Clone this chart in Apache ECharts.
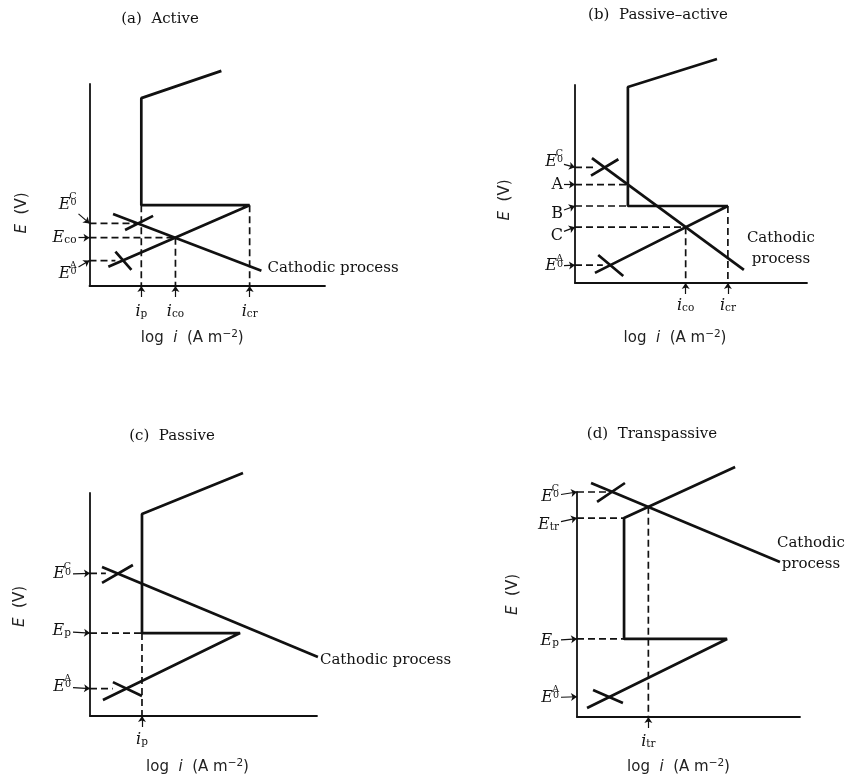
<!DOCTYPE html>
<html>
<head>
<meta charset="utf-8">
<title>Polarization diagrams</title>
<script src="https://cdn.jsdelivr.net/npm/echarts@6/dist/echarts.min.js"></script>
<style>
  html, body { margin: 0; padding: 0; background: #fff; }
  #chart { width: 850px; height: 778px; }
</style>
</head>
<body>
<div id="chart"></div>
<script>
// schematic units: every panel runs 0..10 on both axes

// (a) Active
const aAnodic = [[0.8, 0.95], [6.8, 4.0], [2.2, 4.0], [2.2, 9.3], [5.6, 10.65]];
const aCathodic = [[1.0, 3.56], [7.3, 0.75]];
const aCrosses = [[[1.51, 2.77], [2.70, 3.47]], [[1.1, 1.7], [1.78, 0.8]]];
const aDashed = [
  [[0, 3.1], [2.0, 3.1]], [[0, 2.39], [3.65, 2.39]], [[0, 1.26], [1.1, 1.26]],
  [[2.2, 4.0], [2.2, 0]], [[3.65, 2.39], [3.65, 0]], [[6.8, 4.0], [6.8, 0]]
];
const aLevels = [3.1, 2.39, 1.26];
const aLevelNames = ['E0C', 'Eco', 'E0A'];
const aCurrents = [2.2, 3.65, 6.8];
const aCurrentNames = ['ip', 'ico', 'icr'];

// (b) Passive-active
const bAnodic = [[0.86, 0.51], [6.59, 3.89], [2.28, 3.89], [2.28, 9.9], [6.12, 11.31]];
const bCathodic = [[0.73, 6.31], [7.28, 0.66]];
const bCrosses = [[[0.69, 5.42], [1.87, 6.25]], [[1.0, 1.41], [2.08, 0.35]]];
const bDashed = [
  [[0, 5.84], [0.9, 5.84]], [[0, 4.97], [2.28, 4.97]], [[0, 3.89], [2.28, 3.89]],
  [[0, 2.82], [4.77, 2.82]], [[0, 0.9], [1.2, 0.9]],
  [[4.77, 2.82], [4.77, 0]], [[6.59, 3.89], [6.59, 0]]
];
const bLevels = [5.84, 4.97, 3.89, 2.82, 0.9];
const bLevelNames = ['E0C', 'A', 'B', 'C', 'E0A'];
const bCurrents = [4.77, 6.59];
const bCurrentNames = ['ico', 'icr'];

// (c) Passive
const cAnodic = [[0.57, 0.72], [6.61, 3.72], [2.29, 3.72], [2.29, 9.06], [6.74, 10.9]];
const cCathodic = [[0.53, 6.68], [10.04, 2.65]];
const cCrosses = [[[0.53, 5.97], [1.89, 6.77]], [[1.01, 1.52], [2.29, 0.9]]];
const cDashed = [
  [[0, 6.4], [0.7, 6.4]], [[0, 3.72], [2.29, 3.72]], [[0, 1.23], [1.0, 1.23]],
  [[2.29, 3.72], [2.29, 0]]
];
const cLevels = [6.4, 3.72, 1.23];
const cLevelNames = ['E0C', 'Ep', 'E0A'];
const cCurrents = [2.29];
const cCurrentNames = ['ip'];

// (d) Transpassive
const dAnodic = [[0.45, 0.4], [6.73, 3.47], [2.11, 3.47], [2.11, 8.84], [7.09, 11.11]];
const dCathodic = [[0.63, 10.4], [9.1, 6.89]];
const dCrosses = [[[0.9, 9.56], [2.15, 10.4]], [[0.72, 1.2], [2.06, 0.62]]];
const dDashed = [
  [[0, 10], [1.3, 10]], [[0, 8.84], [2.11, 8.84]], [[0, 3.47], [2.11, 3.47]],
  [[3.2, 9.34], [3.2, 0]]
];
const dLevels = [10, 8.84, 3.47, 0.9];
const dLevelNames = ['E0C', 'Etr', 'Ep', 'E0A'];
const dCurrents = [3.2];
const dCurrentNames = ['itr'];

const INK = '#111';
const SERIF = "'DejaVu Serif', 'Liberation Serif', serif";
const SANS = "'DejaVu Sans', sans-serif";

// rich text pieces for the axis labels (E0 labels stack sup over sub)
const LABELS = {
  E0C: ['{g|E}{sup|C}', '{e|E}{sub|0}'],
  E0A: ['{g|E}{sup|A}', '{e|E}{sub|0}'],
  Eco: ['{e1|E}{subw|co}'],
  Ep: ['{e1|E}{subw|p}'],
  Etr: ['{e1|E}{subw|tr}'],
  A: ['{r|A}'], B: ['{r|B}'], C: ['{r|C}'],
  ip: '{i|i}{subw|p}', ico: '{i|i}{subw|co}', icr: '{i|i}{subw|cr}', itr: '{i|i}{subw|tr}'
};

const RICH = {
  e: { fontFamily: SERIF, fontStyle: 'italic', fontSize: 16, lineHeight: 6, color: INK },
  g: { fontFamily: SERIF, fontStyle: 'italic', fontSize: 16, lineHeight: 4, color: 'rgba(0,0,0,0)' },
  sup: { fontFamily: SERIF, fontSize: 9.5, lineHeight: 1, verticalAlign: 'bottom', color: INK },
  sub: { fontFamily: SERIF, fontSize: 9.5, lineHeight: 1, verticalAlign: 'bottom', color: INK },
  e1: { fontFamily: SERIF, fontStyle: 'italic', fontSize: 16, lineHeight: 16, color: INK },
  subw: { fontFamily: SERIF, fontSize: 10.5, lineHeight: 9, verticalAlign: 'bottom', color: INK },
  r: { fontFamily: SERIF, fontSize: 16, lineHeight: 16, color: INK },
  i: { fontFamily: SERIF, fontStyle: 'italic', fontSize: 16, lineHeight: 16, color: INK }
};
for (let n = 1; n <= 60; n++) RICH['gap' + n] = { fontSize: 1, lineHeight: n };

const NAME_RICH = {
  n: { fontFamily: SANS, fontSize: 15, lineHeight: 18, color: '#222' },
  ni: { fontFamily: SANS, fontStyle: 'italic', fontSize: 15, lineHeight: 18, color: '#222' },
  ns: { fontFamily: SANS, fontSize: 10.5, lineHeight: 11, verticalAlign: 'top', color: '#222' }
};

const panels = [
  {
    anodic: aAnodic, cathodic: aCathodic, crosses: aCrosses, dashed: aDashed,
    levels: aLevels, levelNames: aLevelNames, currents: aCurrents, currentNames: aCurrentNames,
    cathodicText: '{c|Cathodic process}',
    grid: { left: 89.5, top: 84, width: 235.5, height: 202 },
    title: { text: '(a)  Active', x: 160, y: 12 },
    labelShift: [-19, 0, 13], yMargin: 13, yArrow: 11, xMargin: 18,
    xNameGap: 43, xNameShift: 15, yNameGap: 58, yNameShift: 28,
    endLabel: { distance: 5, offset: [1, -3] }
  },
  {
    anodic: bAnodic, cathodic: bCathodic, crosses: bCrosses, dashed: bDashed,
    levels: bLevels, levelNames: bLevelNames, currents: bCurrents, currentNames: bCurrentNames,
    cathodicText: '{c|Cathodic}\n{c|process}',
    grid: { left: 575, top: 85, width: 232, height: 198 },
    title: { text: '(b)  Passive\u2013active', x: 658, y: 8 },
    labelShift: [-6, 0, 8, 8.5, 1], yMargin: 12, yArrow: 11, xMargin: 15,
    xNameGap: 46, xNameShift: 16, yNameGap: 61, yNameShift: 16,
    endLabel: { distance: 3, offset: [0, -21.5] }
  },
  {
    anodic: cAnodic, cathodic: cCathodic, crosses: cCrosses, dashed: cDashed,
    levels: cLevels, levelNames: cLevelNames, currents: cCurrents, currentNames: cCurrentNames,
    cathodicText: '{c|Cathodic process}',
    grid: { left: 90, top: 493, width: 227, height: 223 },
    title: { text: '(c)  Passive', x: 172, y: 429 },
    labelShift: [1, -2, -2], yMargin: 19, yArrow: 17, xMargin: 16,
    xNameGap: 42, xNameShift: 6, yNameGap: 61, yNameShift: 2,
    endLabel: { distance: 2, offset: [0, 3] }
  },
  {
    anodic: dAnodic, cathodic: dCathodic, crosses: dCrosses, dashed: dDashed,
    levels: dLevels, levelNames: dLevelNames, currents: dCurrents, currentNames: dCurrentNames,
    cathodicText: '{c|Cathodic}\n{c|process}',
    grid: { left: 577, top: 492, width: 223, height: 225 },
    title: { text: '(d)  Transpassive', x: 652, y: 427 },
    labelShift: [5, 7, 2, 1], yMargin: 18, yArrow: 16, xMargin: 17,
    xNameGap: 41, xNameShift: 10, yNameGap: 55, yNameShift: -10,
    endLabel: { distance: -3, offset: [0, -8] }
  }
];

function joinSegs(segs) {
  const out = [];
  segs.forEach((s, i) => {
    if (i) out.push(['-', '-']);
    out.push(...s);
  });
  return out;
}

function nearest(arr, v) {
  let best = 0;
  arr.forEach((a, i) => { if (Math.abs(a - v) < Math.abs(arr[best] - v)) best = i; });
  return best;
}

// vertical nudge of a label: blank line above or below moves the block
function levelLabel(name, shift) {
  const lines = LABELS[name].slice();
  const eff = shift + (lines.length === 2 ? -2 : 0);
  const g = Math.round(Math.abs(eff) * 2);
  if (g > 0) {
    if (eff > 0) lines.unshift('{gap' + g + '| }');
    else lines.push('{gap' + g + '| }');
  }
  return lines.join('\n');
}

const option = {
  animation: false,
  backgroundColor: '#fff',
  title: [], grid: [], xAxis: [], yAxis: [], series: []
};

panels.forEach((p, idx) => {
  const pxX = p.grid.width / 10, pxY = p.grid.height / 10;
  const base = {
    type: 'line', xAxisIndex: idx, yAxisIndex: idx, symbol: 'none', showSymbol: false,
    clip: false, silent: true, lineStyle: { color: INK, width: 2.7 }
  };

  option.title.push({
    text: p.title.text, left: p.title.x, top: p.title.y, textAlign: 'center', padding: 0,
    textStyle: { fontFamily: SERIF, fontSize: 15, fontWeight: 'normal', color: INK }
  });
  option.grid.push(Object.assign({ outerBoundsMode: 'none', containLabel: false }, p.grid));

  option.xAxis.push({
    gridIndex: idx, type: 'value', min: 0, max: 10,
    axisLine: { show: true, onZero: false, lineStyle: { color: INK, width: 1.8 } },
    axisTick: { show: false }, splitLine: { show: false },
    axisLabel: {
      show: true, customValues: p.currents, margin: p.xMargin, rich: RICH,
      formatter: (v) => LABELS[p.currentNames[nearest(p.currents, v)]]
    },
    name: '{n|log  }{ni|i}{n|  (A m}{ns|\u22122}{n|)}',
    nameLocation: 'middle', nameGap: p.xNameGap,
    nameTextStyle: { rich: NAME_RICH, padding: [0, 2 * p.xNameShift, 0, 0] }
  });

  const ys = p.yNameShift;
  option.yAxis.push({
    gridIndex: idx, type: 'value', min: 0, max: 10,
    axisLine: { show: true, onZero: false, lineStyle: { color: INK, width: 1.8 } },
    axisTick: { show: false }, splitLine: { show: false },
    axisLabel: {
      show: true, customValues: p.levels, margin: p.yMargin, rich: RICH,
      formatter: (v) => {
        const k = nearest(p.levels, v);
        return levelLabel(p.levelNames[k], p.labelShift[k]);
      }
    },
    name: '{ni|E}{n|  (V)}',
    nameLocation: 'middle', nameGap: p.yNameGap,
    nameTextStyle: {
      rich: NAME_RICH,
      padding: ys >= 0 ? [0, 2 * ys, 0, 0] : [0, 0, 0, -2 * ys]
    }
  });

  option.series.push(
    Object.assign({}, base, { name: 'anodic', data: p.anodic }),
    Object.assign({}, base, {
      name: 'cathodic', data: p.cathodic,
      endLabel: {
        show: true, formatter: p.cathodicText,
        distance: p.endLabel.distance, offset: p.endLabel.offset,
        rich: { c: { fontFamily: SERIF, fontSize: 15, lineHeight: 21, color: INK, align: 'center' } }
      }
    }),
    Object.assign({}, base, { name: 'E0 marks', data: joinSegs(p.crosses) }),
    Object.assign({}, base, {
      name: 'guides', data: joinSegs(p.dashed),
      lineStyle: { color: INK, width: 1.7, type: [7, 4] }
    }),
    {
      type: 'lines', coordinateSystem: 'cartesian2d', xAxisIndex: idx, yAxisIndex: idx,
      clip: false, silent: true, symbol: ['none', 'arrow'], symbolSize: [0, 6],
      lineStyle: { color: INK, width: 1.2, opacity: 1, curveness: 0 },
      data: p.levels.map((lv, k) => ({
        coords: [[-p.yArrow / pxX, lv - 0.5 * p.labelShift[k] / pxY], [0, lv]]
      })).concat(p.currents.map(c => ({ coords: [[c, -11 / pxY], [c, 0]] })))
    }
  );
});

const chart = echarts.init(document.getElementById('chart'));
chart.setOption(option);
</script>
</body>
</html>
